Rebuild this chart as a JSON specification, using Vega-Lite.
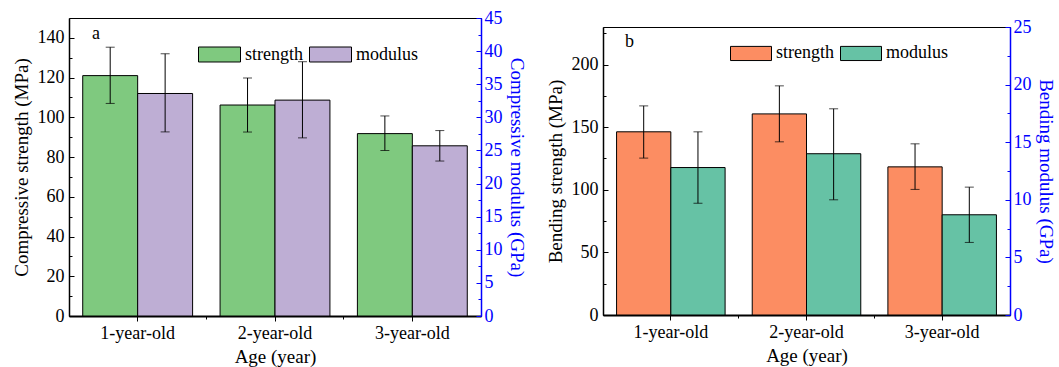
{
  "$schema": "https://vega.github.io/schema/vega-lite/v6.json",
  "background": "white",
  "padding": {"left": 11, "top": 8, "right": 2, "bottom": 0},
  "datasets": {
    "comp": [
      {"age": "1-year-old", "series": "strength", "value": 121.0, "lo": 107.0, "hi": 135.3},
      {"age": "1-year-old", "series": "modulus", "value": 33.6, "lo": 27.8, "hi": 39.6},
      {"age": "2-year-old", "series": "strength", "value": 106.2, "lo": 92.6, "hi": 119.8},
      {"age": "2-year-old", "series": "modulus", "value": 32.6, "lo": 26.9, "hi": 38.4},
      {"age": "3-year-old", "series": "strength", "value": 91.8, "lo": 83.3, "hi": 100.7},
      {"age": "3-year-old", "series": "modulus", "value": 25.7, "lo": 23.4, "hi": 28.0}
    ],
    "bend": [
      {"age": "1-year-old", "series": "strength", "value": 146.3, "lo": 125.3, "hi": 167.0},
      {"age": "1-year-old", "series": "modulus", "value": 12.8, "lo": 9.7, "hi": 15.9},
      {"age": "2-year-old", "series": "strength", "value": 160.6, "lo": 138.3, "hi": 183.0},
      {"age": "2-year-old", "series": "modulus", "value": 14.0, "lo": 10.0, "hi": 17.9},
      {"age": "3-year-old", "series": "strength", "value": 118.3, "lo": 100.3, "hi": 136.7},
      {"age": "3-year-old", "series": "modulus", "value": 8.7, "lo": 6.3, "hi": 11.1}
    ]
  },
  "spacing": 19,
  "resolve": {"scale": {"color": "independent", "fill": "independent", "xOffset": "independent"}},
  "hconcat": [
    {
      "data": {"name": "comp"},
      "width": 412,
      "height": 298,
      "layer": [
        {
          "transform": [{"filter": "datum.series === 'strength'"}],
          "layer": [
            {
              "mark": {"type": "bar", "stroke": "black", "strokeWidth": 1},
              "encoding": {
                "x": {"field": "age", "type": "nominal", "scale": {"domain": ["1-year-old", "2-year-old", "3-year-old"], "paddingInner": 0.2, "paddingOuter": 0.1}, "axis": {"orient": "bottom", "title": "Age (year)", "labelAngle": 0, "tickSize": 5, "labelPadding": 3, "titlePadding": 5, "domainWidth": 2}},
                "xOffset": {"field": "series", "type": "nominal", "scale": {"domain": ["strength", "modulus"], "paddingInner": 0, "paddingOuter": 0}},
                "y": {"field": "value", "type": "quantitative", "scale": {"domain": [0, 150], "nice": false}, "axis": {"orient": "left", "values": [0, 20, 40, 60, 80, 100, 120, 140], "tickSize": -5, "labelPadding": 10, "title": "Compressive strength (MPa)", "titlePadding": 6, "domainWidth": 1.5}},
                "fill": {"field": "series", "type": "nominal", "scale": {"domain": ["strength", "modulus"], "range": ["#7fc97f", "#beaed4"]}, "legend": {"orient": "none", "legendX": 129, "legendY": 15, "direction": "horizontal", "title": null, "symbolType": "M-1,-0.357H1V0.357H-1Z", "symbolSize": 1764, "symbolStrokeColor": "black", "symbolStrokeWidth": 1, "symbolOpacity": 1, "columnPadding": 4, "labelOffset": 4, "padding": 0}}
              }
            },
            {
              "mark": {"type": "rule", "color": "black", "strokeWidth": 1},
              "encoding": {
                "x": {"field": "age", "type": "nominal", "axis": {"orient": "bottom", "values": ["1-year-old", "2-year-old"], "bandPosition": 1.125, "tickSize": 3, "labels": false, "domain": false, "title": null}},
                "xOffset": {"field": "series", "type": "nominal"},
                "y": {"field": "lo", "type": "quantitative", "axis": {"orient": "left", "values": [10, 30, 50, 70, 90, 110, 130], "tickSize": -3, "labels": false, "domain": false, "title": null}},
                "y2": {"field": "hi"}
              }
            },
            {
              "mark": {"type": "tick", "color": "black", "size": 9, "thickness": 1},
              "encoding": {
                "x": {"field": "age", "type": "nominal", "axis": null},
                "xOffset": {"field": "series", "type": "nominal"},
                "y": {"field": "hi", "type": "quantitative", "axis": null}
              }
            },
            {
              "mark": {"type": "tick", "color": "black", "size": 9, "thickness": 1},
              "encoding": {
                "x": {"field": "age", "type": "nominal", "axis": null},
                "xOffset": {"field": "series", "type": "nominal"},
                "y": {"field": "lo", "type": "quantitative", "axis": null}
              }
            },
            {
              "data": {"values": [{"label": "a"}]},
              "mark": {"type": "text", "font": "Liberation Serif", "fontSize": 18, "color": "black", "align": "center", "baseline": "middle"},
              "encoding": {
                "x": {"datum": "1-year-old", "type": "nominal", "bandPosition": 0.12, "axis": null},
                "y": {"datum": 142, "type": "quantitative", "axis": null},
                "text": {"field": "label"}
              }
            }
          ],
          "resolve": {"axis": {"x": "independent", "y": "independent"}}
        },
        {
          "transform": [{"filter": "datum.series === 'modulus'"}],
          "layer": [
            {
              "mark": {"type": "bar", "stroke": "black", "strokeWidth": 1},
              "encoding": {
                "x": {"field": "age", "type": "nominal", "axis": null},
                "xOffset": {"field": "series", "type": "nominal"},
                "y": {"field": "value", "type": "quantitative", "scale": {"domain": [0, 45], "nice": false}, "axis": {"orient": "right", "values": [0, 5, 10, 15, 20, 25, 30, 35, 40, 45], "tickSize": -5, "labelPadding": 8, "title": "Compressive modulus (GPa)", "titleAngle": 90, "titlePadding": 4, "labelColor": "#0000ff", "titleColor": "#0000ff", "domainColor": "#0000ff", "tickColor": "#0000ff", "domainWidth": 1.5}},
                "fill": {"field": "series", "type": "nominal", "scale": {"domain": ["strength", "modulus"], "range": ["#7fc97f", "#beaed4"]}, "legend": {"orient": "none", "legendX": 129, "legendY": 15, "direction": "horizontal", "title": null, "symbolType": "M-1,-0.357H1V0.357H-1Z", "symbolSize": 1764, "symbolStrokeColor": "black", "symbolStrokeWidth": 1, "symbolOpacity": 1, "columnPadding": 4, "labelOffset": 4, "padding": 0}}
              }
            },
            {
              "mark": {"type": "rule", "color": "black", "strokeWidth": 1},
              "encoding": {
                "x": {"field": "age", "type": "nominal", "axis": null},
                "xOffset": {"field": "series", "type": "nominal"},
                "y": {"field": "lo", "type": "quantitative", "axis": {"orient": "right", "values": [2.5, 7.5, 12.5, 17.5, 22.5, 27.5, 32.5, 37.5, 42.5], "tickSize": -3, "labels": false, "domain": false, "title": null, "tickColor": "#0000ff"}},
                "y2": {"field": "hi"}
              }
            },
            {
              "mark": {"type": "tick", "color": "black", "size": 9, "thickness": 1},
              "encoding": {
                "x": {"field": "age", "type": "nominal", "axis": null},
                "xOffset": {"field": "series", "type": "nominal"},
                "y": {"field": "hi", "type": "quantitative", "axis": null}
              }
            },
            {
              "mark": {"type": "tick", "color": "black", "size": 9, "thickness": 1},
              "encoding": {
                "x": {"field": "age", "type": "nominal", "axis": null},
                "xOffset": {"field": "series", "type": "nominal"},
                "y": {"field": "lo", "type": "quantitative", "axis": null}
              }
            }
          ],
          "resolve": {"axis": {"y": "independent"}}
        }
      ],
      "resolve": {"scale": {"y": "independent"}}
    },
    {
      "spacing": -2,
      "vconcat": [
        {
          "width": 407,
          "height": 1,
          "data": {"values": [{"k": 0}]},
          "mark": {"type": "rule", "opacity": 0},
          "encoding": {},
          "view": {"stroke": null}
        },
        {
          "data": {"name": "bend"},
          "width": 407,
          "height": 288,
          "layer": [
            {
              "transform": [{"filter": "datum.series === 'strength'"}],
              "layer": [
                {
                  "mark": {"type": "bar", "stroke": "black", "strokeWidth": 1},
                  "encoding": {
                    "x": {"field": "age", "type": "nominal", "scale": {"domain": ["1-year-old", "2-year-old", "3-year-old"], "paddingInner": 0.2, "paddingOuter": 0.1}, "axis": {"orient": "bottom", "title": "Age (year)", "labelAngle": 0, "tickSize": 5, "labelPadding": 3, "titlePadding": 5, "domainWidth": 2}},
                    "xOffset": {"field": "series", "type": "nominal", "scale": {"domain": ["strength", "modulus"], "paddingInner": 0, "paddingOuter": 0}},
                    "y": {"field": "value", "type": "quantitative", "scale": {"domain": [0, 230], "nice": false}, "axis": {"orient": "left", "values": [0, 50, 100, 150, 200], "tickSize": -5, "labelPadding": 10, "title": "Bending strength (MPa)", "titlePadding": 6, "domainWidth": 1.5}},
                    "fill": {"field": "series", "type": "nominal", "scale": {"domain": ["strength", "modulus"], "range": ["#fc8d62", "#66c2a5"]}, "legend": {"orient": "none", "legendX": 127, "legendY": 14, "direction": "horizontal", "title": null, "symbolType": "M-1,-0.345H1V0.345H-1Z", "symbolSize": 1681, "symbolStrokeColor": "black", "symbolStrokeWidth": 1, "symbolOpacity": 1, "columnPadding": 4, "labelOffset": 4, "padding": 0}}
                  }
                },
                {
                  "mark": {"type": "rule", "color": "black", "strokeWidth": 1},
                  "encoding": {
                    "x": {"field": "age", "type": "nominal", "axis": {"orient": "bottom", "values": ["1-year-old", "2-year-old"], "bandPosition": 1.125, "tickSize": 3, "labels": false, "domain": false, "title": null}},
                    "xOffset": {"field": "series", "type": "nominal"},
                    "y": {"field": "lo", "type": "quantitative", "axis": {"orient": "left", "values": [25, 75, 125, 175, 225], "tickSize": -3, "labels": false, "domain": false, "title": null}},
                    "y2": {"field": "hi"}
                  }
                },
                {
                  "mark": {"type": "tick", "color": "black", "size": 9, "thickness": 1},
                  "encoding": {
                    "x": {"field": "age", "type": "nominal", "axis": null},
                    "xOffset": {"field": "series", "type": "nominal"},
                    "y": {"field": "hi", "type": "quantitative", "axis": null}
                  }
                },
                {
                  "mark": {"type": "tick", "color": "black", "size": 9, "thickness": 1},
                  "encoding": {
                    "x": {"field": "age", "type": "nominal", "axis": null},
                    "xOffset": {"field": "series", "type": "nominal"},
                    "y": {"field": "lo", "type": "quantitative", "axis": null}
                  }
                },
                {
                  "data": {"values": [{"label": "b"}]},
                  "mark": {"type": "text", "font": "Liberation Serif", "fontSize": 18, "color": "black", "align": "center", "baseline": "middle"},
                  "encoding": {
                    "x": {"datum": "1-year-old", "type": "nominal", "bandPosition": 0.12, "axis": null},
                    "y": {"datum": 218, "type": "quantitative", "axis": null},
                    "text": {"field": "label"}
                  }
                }
              ],
              "resolve": {"axis": {"x": "independent", "y": "independent"}}
            },
            {
              "transform": [{"filter": "datum.series === 'modulus'"}],
              "layer": [
                {
                  "mark": {"type": "bar", "stroke": "black", "strokeWidth": 1},
                  "encoding": {
                    "x": {"field": "age", "type": "nominal", "axis": null},
                    "xOffset": {"field": "series", "type": "nominal"},
                    "y": {"field": "value", "type": "quantitative", "scale": {"domain": [0, 25], "nice": false}, "axis": {"orient": "right", "values": [0, 5, 10, 15, 20, 25], "tickSize": -5, "labelPadding": 8, "title": "Bending modulus (GPa)", "titleAngle": 90, "titlePadding": 4, "labelColor": "#0000ff", "titleColor": "#0000ff", "domainColor": "#0000ff", "tickColor": "#0000ff", "domainWidth": 1.5}},
                    "fill": {"field": "series", "type": "nominal", "scale": {"domain": ["strength", "modulus"], "range": ["#fc8d62", "#66c2a5"]}, "legend": {"orient": "none", "legendX": 127, "legendY": 14, "direction": "horizontal", "title": null, "symbolType": "M-1,-0.345H1V0.345H-1Z", "symbolSize": 1681, "symbolStrokeColor": "black", "symbolStrokeWidth": 1, "symbolOpacity": 1, "columnPadding": 4, "labelOffset": 4, "padding": 0}}
                  }
                },
                {
                  "mark": {"type": "rule", "color": "black", "strokeWidth": 1},
                  "encoding": {
                    "x": {"field": "age", "type": "nominal", "axis": null},
                    "xOffset": {"field": "series", "type": "nominal"},
                    "y": {"field": "lo", "type": "quantitative", "axis": {"orient": "right", "values": [2.5, 7.5, 12.5, 17.5, 22.5], "tickSize": -3, "labels": false, "domain": false, "title": null, "tickColor": "#0000ff"}},
                    "y2": {"field": "hi"}
                  }
                },
                {
                  "mark": {"type": "tick", "color": "black", "size": 9, "thickness": 1},
                  "encoding": {
                    "x": {"field": "age", "type": "nominal", "axis": null},
                    "xOffset": {"field": "series", "type": "nominal"},
                    "y": {"field": "hi", "type": "quantitative", "axis": null}
                  }
                },
                {
                  "mark": {"type": "tick", "color": "black", "size": 9, "thickness": 1},
                  "encoding": {
                    "x": {"field": "age", "type": "nominal", "axis": null},
                    "xOffset": {"field": "series", "type": "nominal"},
                    "y": {"field": "lo", "type": "quantitative", "axis": null}
                  }
                }
              ],
              "resolve": {"axis": {"y": "independent"}}
            }
          ],
          "resolve": {"scale": {"y": "independent"}}
        }
      ]
    }
  ],
  "config": {
    "font": "Liberation Serif",
    "view": {"stroke": "black", "strokeWidth": 1},
    "axis": {
      "labelFont": "Liberation Serif",
      "titleFont": "Liberation Serif",
      "labelFontSize": 18,
      "titleFontSize": 19,
      "titleFontWeight": "normal",
      "labelColor": "black",
      "titleColor": "black",
      "domainColor": "black",
      "tickColor": "black",
      "grid": false
    },
    "legend": {
      "labelFont": "Liberation Serif",
      "labelFontSize": 18,
      "labelColor": "black"
    },
    "title": {"font": "Liberation Serif"}
  }
}
